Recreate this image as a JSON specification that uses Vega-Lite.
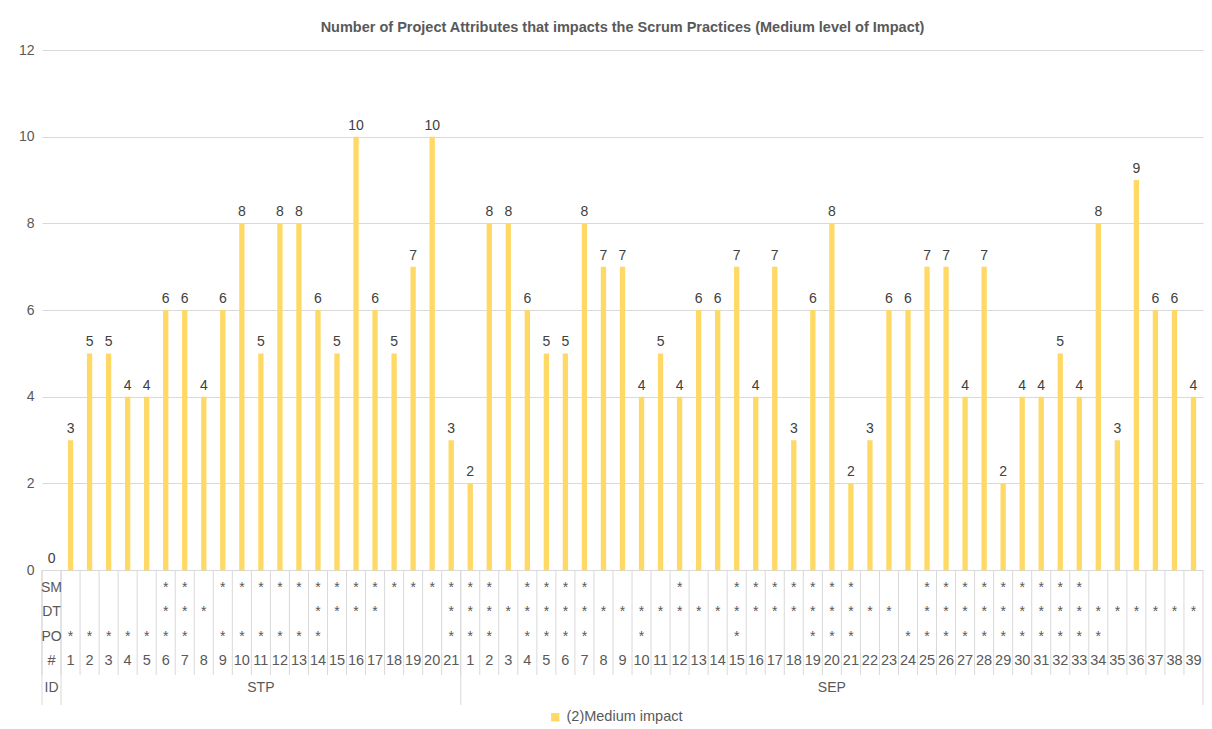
{
  "$schema": "https://vega.github.io/schema/vega-lite/v6.json",
  "width": 1161,
  "height": 655,
  "padding": {"left": 8, "top": 19, "right": 9, "bottom": 6},
  "background": "white",
  "config": {
    "view": {"stroke": null},
    "font": "Liberation Sans"
  },
  "title": {
    "text": "Number of Project Attributes that impacts the Scrum Practices (Medium level of Impact)",
    "fontSize": 14.5,
    "fontWeight": "bold",
    "color": "#595959",
    "anchor": "middle",
    "offset": 8
  },
  "data": {
    "values": [
      {"k": "H", "v": 0, "SM": "SM", "DT": "DT", "PO": "PO", "n": "#", "id": "ID"},
      {"k": "STP-1", "v": 3, "PO": "*", "n": "1"},
      {"k": "STP-2", "v": 5, "PO": "*", "n": "2"},
      {"k": "STP-3", "v": 5, "PO": "*", "n": "3"},
      {"k": "STP-4", "v": 4, "PO": "*", "n": "4"},
      {"k": "STP-5", "v": 4, "PO": "*", "n": "5"},
      {"k": "STP-6", "v": 6, "SM": "*", "DT": "*", "PO": "*", "n": "6"},
      {"k": "STP-7", "v": 6, "SM": "*", "DT": "*", "PO": "*", "n": "7"},
      {"k": "STP-8", "v": 4, "DT": "*", "n": "8"},
      {"k": "STP-9", "v": 6, "SM": "*", "PO": "*", "n": "9"},
      {"k": "STP-10", "v": 8, "SM": "*", "PO": "*", "n": "10"},
      {"k": "STP-11", "v": 5, "SM": "*", "PO": "*", "n": "11", "id": "STP"},
      {"k": "STP-12", "v": 8, "SM": "*", "PO": "*", "n": "12"},
      {"k": "STP-13", "v": 8, "SM": "*", "PO": "*", "n": "13"},
      {"k": "STP-14", "v": 6, "SM": "*", "DT": "*", "PO": "*", "n": "14"},
      {"k": "STP-15", "v": 5, "SM": "*", "DT": "*", "n": "15"},
      {"k": "STP-16", "v": 10, "SM": "*", "DT": "*", "n": "16"},
      {"k": "STP-17", "v": 6, "SM": "*", "DT": "*", "n": "17"},
      {"k": "STP-18", "v": 5, "SM": "*", "n": "18"},
      {"k": "STP-19", "v": 7, "SM": "*", "n": "19"},
      {"k": "STP-20", "v": 10, "SM": "*", "n": "20"},
      {"k": "STP-21", "v": 3, "SM": "*", "DT": "*", "PO": "*", "n": "21"},
      {"k": "SEP-1", "v": 2, "SM": "*", "DT": "*", "PO": "*", "n": "1"},
      {"k": "SEP-2", "v": 8, "SM": "*", "DT": "*", "PO": "*", "n": "2"},
      {"k": "SEP-3", "v": 8, "DT": "*", "n": "3"},
      {"k": "SEP-4", "v": 6, "SM": "*", "DT": "*", "PO": "*", "n": "4"},
      {"k": "SEP-5", "v": 5, "SM": "*", "DT": "*", "PO": "*", "n": "5"},
      {"k": "SEP-6", "v": 5, "SM": "*", "DT": "*", "PO": "*", "n": "6"},
      {"k": "SEP-7", "v": 8, "SM": "*", "DT": "*", "PO": "*", "n": "7"},
      {"k": "SEP-8", "v": 7, "DT": "*", "n": "8"},
      {"k": "SEP-9", "v": 7, "DT": "*", "n": "9"},
      {"k": "SEP-10", "v": 4, "DT": "*", "PO": "*", "n": "10"},
      {"k": "SEP-11", "v": 5, "DT": "*", "n": "11"},
      {"k": "SEP-12", "v": 4, "SM": "*", "DT": "*", "n": "12"},
      {"k": "SEP-13", "v": 6, "DT": "*", "n": "13"},
      {"k": "SEP-14", "v": 6, "DT": "*", "n": "14"},
      {"k": "SEP-15", "v": 7, "SM": "*", "DT": "*", "PO": "*", "n": "15"},
      {"k": "SEP-16", "v": 4, "SM": "*", "DT": "*", "n": "16"},
      {"k": "SEP-17", "v": 7, "SM": "*", "DT": "*", "n": "17"},
      {"k": "SEP-18", "v": 3, "SM": "*", "DT": "*", "n": "18"},
      {"k": "SEP-19", "v": 6, "SM": "*", "DT": "*", "PO": "*", "n": "19"},
      {"k": "SEP-20", "v": 8, "SM": "*", "DT": "*", "PO": "*", "n": "20", "id": "SEP"},
      {"k": "SEP-21", "v": 2, "SM": "*", "DT": "*", "PO": "*", "n": "21"},
      {"k": "SEP-22", "v": 3, "DT": "*", "n": "22"},
      {"k": "SEP-23", "v": 6, "DT": "*", "n": "23"},
      {"k": "SEP-24", "v": 6, "PO": "*", "n": "24"},
      {"k": "SEP-25", "v": 7, "SM": "*", "DT": "*", "PO": "*", "n": "25"},
      {"k": "SEP-26", "v": 7, "SM": "*", "DT": "*", "PO": "*", "n": "26"},
      {"k": "SEP-27", "v": 4, "SM": "*", "DT": "*", "PO": "*", "n": "27"},
      {"k": "SEP-28", "v": 7, "SM": "*", "DT": "*", "PO": "*", "n": "28"},
      {"k": "SEP-29", "v": 2, "SM": "*", "DT": "*", "PO": "*", "n": "29"},
      {"k": "SEP-30", "v": 4, "SM": "*", "DT": "*", "PO": "*", "n": "30"},
      {"k": "SEP-31", "v": 4, "SM": "*", "DT": "*", "PO": "*", "n": "31"},
      {"k": "SEP-32", "v": 5, "SM": "*", "DT": "*", "PO": "*", "n": "32"},
      {"k": "SEP-33", "v": 4, "SM": "*", "DT": "*", "PO": "*", "n": "33"},
      {"k": "SEP-34", "v": 8, "DT": "*", "PO": "*", "n": "34"},
      {"k": "SEP-35", "v": 3, "DT": "*", "n": "35"},
      {"k": "SEP-36", "v": 9, "DT": "*", "n": "36"},
      {"k": "SEP-37", "v": 6, "DT": "*", "n": "37"},
      {"k": "SEP-38", "v": 6, "DT": "*", "n": "38"},
      {"k": "SEP-39", "v": 4, "DT": "*", "n": "39"}
    ]
  },
  "encoding": {
    "x": {
      "field": "k",
      "type": "nominal",
      "axis": null,
      "scale": {
        "paddingInner": 0,
        "paddingOuter": 0,
        "domain": ["H","STP-1","STP-2","STP-3","STP-4","STP-5","STP-6","STP-7","STP-8","STP-9","STP-10","STP-11","STP-12","STP-13","STP-14","STP-15","STP-16","STP-17","STP-18","STP-19","STP-20","STP-21","SEP-1","SEP-2","SEP-3","SEP-4","SEP-5","SEP-6","SEP-7","SEP-8","SEP-9","SEP-10","SEP-11","SEP-12","SEP-13","SEP-14","SEP-15","SEP-16","SEP-17","SEP-18","SEP-19","SEP-20","SEP-21","SEP-22","SEP-23","SEP-24","SEP-25","SEP-26","SEP-27","SEP-28","SEP-29","SEP-30","SEP-31","SEP-32","SEP-33","SEP-34","SEP-35","SEP-36","SEP-37","SEP-38","SEP-39"]
      }
    }
  },
  "layer": [
    {
      "mark": {"type": "bar", "width": {"band": 0.28}},
      "encoding": {
        "y": {
          "field": "v",
          "type": "quantitative",
          "scale": {"domain": [-3.11, 12], "nice": false, "zero": false},
          "axis": {
            "values": [0, 2, 4, 6, 8, 10, 12],
            "title": null,
            "domain": false,
            "ticks": false,
            "grid": true,
            "gridColor": "#d9d9d9",
            "gridWidth": 1,
            "labelFontSize": 14,
            "labelColor": "#595959",
            "labelPadding": 8,
            "minExtent": 34,
            "maxExtent": 34
          }
        },
        "color": {
          "datum": "(2)Medium impact",
          "scale": {"range": ["#FFD966"]},
          "legend": {
            "title": null,
            "orient": "none",
            "legendX": 506,
            "legendY": 660,
            "direction": "horizontal",
            "symbolType": "square",
            "symbolSize": 70,
            "symbolStrokeWidth": 0,
            "labelFontSize": 14.5,
            "labelColor": "#595959",
            "padding": 0
          }
        }
      }
    },
    {
      "mark": {"type": "text", "baseline": "bottom", "dy": -4, "fontSize": 14, "color": "#404040"},
      "encoding": {
        "y": {"field": "v", "type": "quantitative"},
        "text": {"field": "v", "type": "quantitative"}
      }
    },
    {
      "mark": {"type": "rule", "color": "#d9d9d9", "strokeWidth": 1},
      "encoding": {
        "x": {"field": "k", "type": "nominal", "bandPosition": 0},
        "y": {"datum": 0},
        "y2": {"datum": -2.42}
      }
    },
    {
      "transform": [{"filter": {"field": "k", "oneOf": ["H", "STP-1", "SEP-1"]}}],
      "mark": {"type": "rule", "color": "#d9d9d9", "strokeWidth": 1},
      "encoding": {
        "x": {"field": "k", "type": "nominal", "bandPosition": 0},
        "y": {"datum": 0},
        "y2": {"datum": -3.11}
      }
    },
    {
      "transform": [{"filter": {"field": "k", "equal": "SEP-39"}}],
      "mark": {"type": "rule", "color": "#d9d9d9", "strokeWidth": 1},
      "encoding": {
        "x": {"field": "k", "type": "nominal", "bandPosition": 1},
        "y": {"datum": 0},
        "y2": {"datum": -3.11}
      }
    },
    {
      "transform": [{"filter": "isValid(datum.SM)"}],
      "mark": {"type": "text", "baseline": "middle", "fontSize": 14, "color": "#595959"},
      "encoding": {"y": {"datum": -0.415}, "text": {"field": "SM"}}
    },
    {
      "transform": [{"filter": "isValid(datum.DT)"}],
      "mark": {"type": "text", "baseline": "middle", "fontSize": 14, "color": "#595959"},
      "encoding": {"y": {"datum": -0.97}, "text": {"field": "DT"}}
    },
    {
      "transform": [{"filter": "isValid(datum.PO)"}],
      "mark": {"type": "text", "baseline": "middle", "fontSize": 14, "color": "#595959"},
      "encoding": {"y": {"datum": -1.545}, "text": {"field": "PO"}}
    },
    {
      "mark": {"type": "text", "baseline": "middle", "fontSize": 14.5, "color": "#595959"},
      "encoding": {"y": {"datum": -2.1}, "text": {"field": "n"}}
    },
    {
      "transform": [{"filter": "isValid(datum.id)"}],
      "mark": {"type": "text", "baseline": "middle", "fontSize": 14, "color": "#595959"},
      "encoding": {"y": {"datum": -2.72}, "text": {"field": "id"}}
    }
  ]
}
